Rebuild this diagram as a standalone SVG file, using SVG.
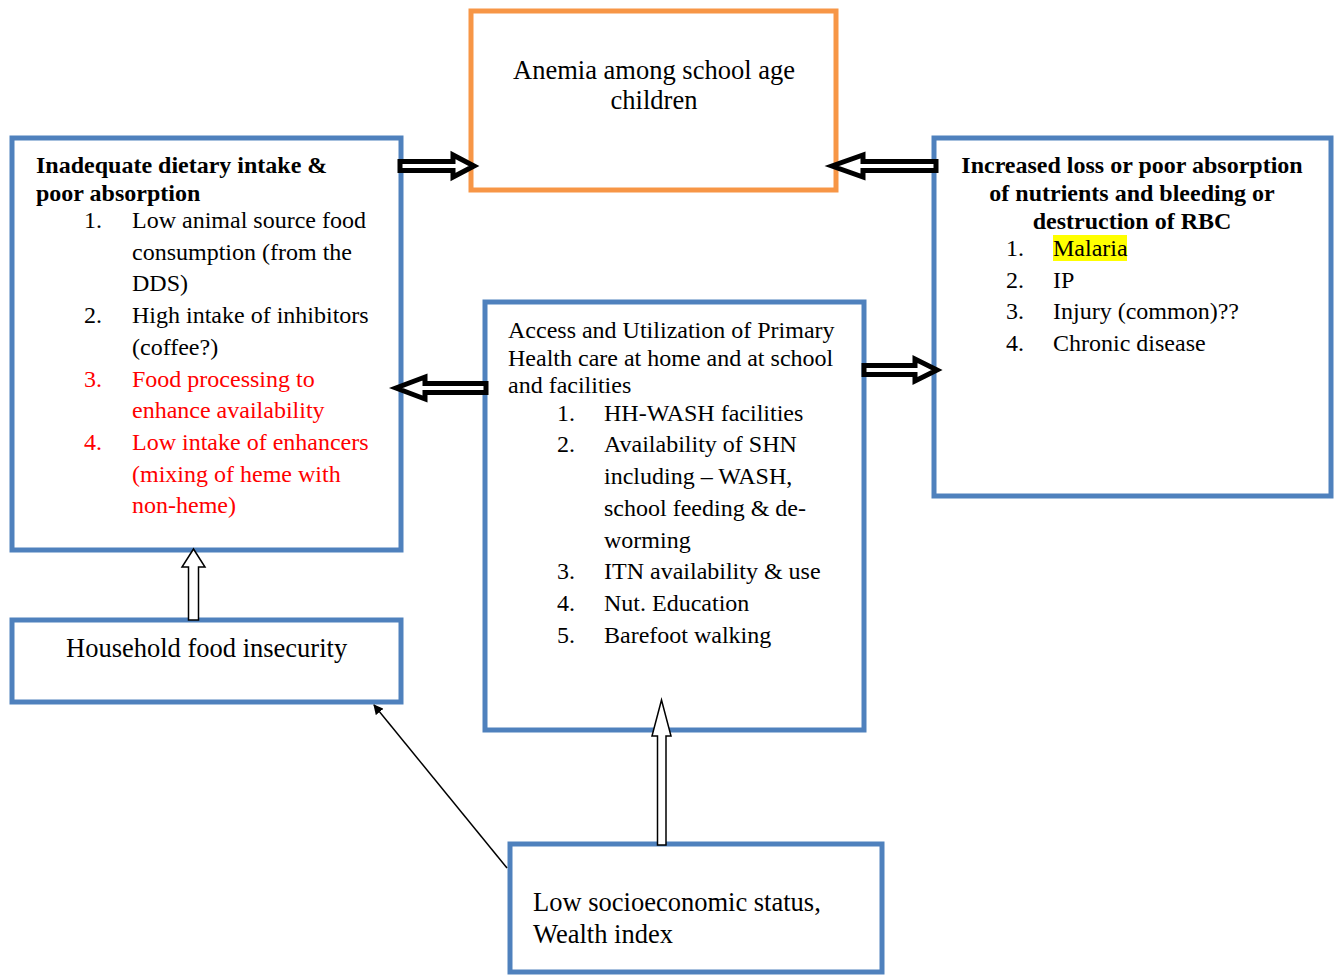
<svg xmlns="http://www.w3.org/2000/svg" width="1338" height="975" viewBox="0 0 1338 975">
<style>
.box{fill:#fff;stroke:#4F81BD;stroke-width:5}
.obox{fill:#fff;stroke:#F79646;stroke-width:5}
text{font-family:"Liberation Serif","Times New Roman",serif;font-size:24px;fill:#000}
.lg{font-size:26.5px}
.b{font-weight:bold}
.red{fill:#FF0000}
.dbl{fill:#fff;stroke:#000;stroke-width:5;stroke-linejoin:miter}
.up{fill:#fff;stroke:#000;stroke-width:1.5}
</style>
<defs>
<marker id="ah" markerWidth="10" markerHeight="10" refX="9" refY="5" orient="auto" markerUnits="userSpaceOnUse">
<path d="M0,0 L10,5 L0,10 z" fill="#000"/>
</marker>
</defs>
<g id="anemia">
<rect class="obox" x="471" y="11" width="365" height="179"/>
<text class="lg" x="654" y="79" text-anchor="middle">Anemia among school age</text>
<text class="lg" x="654" y="109" text-anchor="middle">children</text>
</g>
<g id="dietary">
<rect class="box" x="12" y="138" width="389" height="412"/>
<text class="b" x="36" y="173">Inadequate dietary intake &amp;</text>
<text class="b" x="36" y="201">poor absorption</text>
<text x="84" y="228">1.</text><text x="132" y="228">Low animal source food</text>
<text x="132" y="260">consumption (from the</text>
<text x="132" y="291">DDS)</text>
<text x="84" y="323">2.</text><text x="132" y="323">High intake of inhibitors</text>
<text x="132" y="355">(coffee?)</text>
<text class="red" x="84" y="387">3.</text><text class="red" x="132" y="387">Food processing to</text>
<text class="red" x="132" y="418">enhance availability</text>
<text class="red" x="84" y="450">4.</text><text class="red" x="132" y="450">Low intake of enhancers</text>
<text class="red" x="132" y="482">(mixing of heme with</text>
<text class="red" x="132" y="513">non-heme)</text>
</g>
<g id="loss">
<rect class="box" x="934" y="138" width="397" height="358"/>
<text class="b" x="1132" y="173" text-anchor="middle">Increased loss or poor absorption</text>
<text class="b" x="1132" y="201" text-anchor="middle">of nutrients and bleeding or</text>
<text class="b" x="1132" y="229" text-anchor="middle">destruction of RBC</text>
<rect x="1053" y="235" width="74" height="26" fill="#FFFF00"/>
<text x="1006" y="256">1.</text><text x="1053" y="256">Malaria</text>
<text x="1006" y="288">2.</text><text x="1053" y="288">IP</text>
<text x="1006" y="319">3.</text><text x="1053" y="319">Injury (common)??</text>
<text x="1006" y="351">4.</text><text x="1053" y="351">Chronic disease</text>
</g>
<g id="access">
<rect class="box" x="485" y="302" width="379" height="428"/>
<text x="508" y="338">Access and Utilization of Primary</text>
<text x="508" y="366">Health care at home and at school</text>
<text x="508" y="393">and facilities</text>
<text x="557" y="421">1.</text><text x="604" y="421">HH-WASH facilities</text>
<text x="557" y="452">2.</text><text x="604" y="452">Availability of SHN</text>
<text x="604" y="484">including – WASH,</text>
<text x="604" y="516">school feeding &amp; de-</text>
<text x="604" y="548">worming</text>
<text x="557" y="579">3.</text><text x="604" y="579">ITN availability &amp; use</text>
<text x="557" y="611">4.</text><text x="604" y="611">Nut. Education</text>
<text x="557" y="643">5.</text><text x="604" y="643">Barefoot walking</text>
</g>
<g id="household">
<rect class="box" x="12" y="620" width="389" height="82"/>
<text class="lg" x="66" y="657">Household food insecurity</text>
</g>
<g id="ses">
<rect class="box" x="510" y="844" width="372" height="128"/>
<text class="lg" x="533" y="911">Low socioeconomic status,</text>
<text class="lg" x="533" y="943">Wealth index</text>
</g>
<g id="connectors">
<polygon class="dbl" points="400,161.5 453,161.5 453,155 474,166 453,177 453,170.5 400,170.5"/>
<polygon class="dbl" points="936,161.5 863,161.5 863,155 832,166 863,177 863,170.5 936,170.5"/>
<polygon class="dbl" points="486,383.5 425,383.5 425,377 396,388 425,399 425,392.5 486,392.5"/>
<polygon class="dbl" points="864,365.5 915,365.5 915,359 937,370 915,381 915,374.5 864,374.5"/>
<polygon class="up" points="188.5,620 188.5,567 182,567 193.5,549 205,567 198.5,567 198.5,620"/>
<polygon class="up" points="657.5,845 657.5,736 652,736 661.5,700 671,736 666,736 666,845"/>
<line x1="507" y1="868" x2="374" y2="705" stroke="#000" stroke-width="1.5" marker-end="url(#ah)"/>
</g>
</svg>
